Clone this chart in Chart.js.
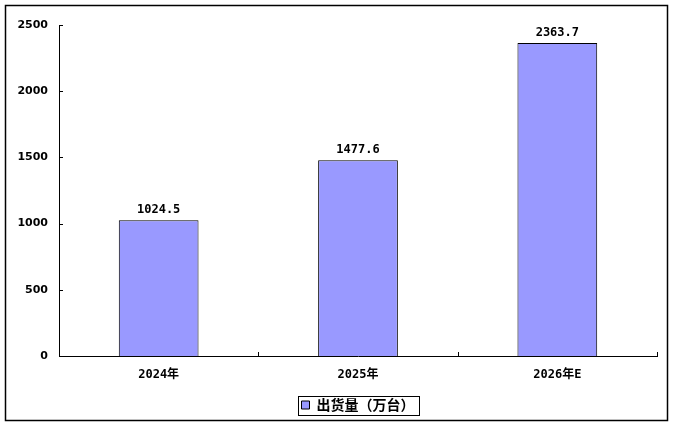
<!DOCTYPE html>
<html>
<head>
<meta charset="utf-8">
<script src="https://cdn.jsdelivr.net/npm/chart.js@4/dist/chart.umd.min.js"></script>
<style>
  html, body { margin: 0; padding: 0; background: #fff; }
  #wrap { width: 673px; height: 426px; position: relative; }
</style>
</head>
<body>
<div id="wrap"><canvas id="myChart"></canvas></div>
<script>
var categories = ["2024年", "2025年", "2026年E"];
var shipments = [1024.5, 1477.6, 2363.7];
var yTicks = [0, 500, 1000, 1500, 2000, 2500];
var seriesName = "出货量（万台）";

var monoFont = '"DejaVu Sans Mono", "Noto Sans CJK SC", monospace';
var legendFont = '"Noto Sans CJK SC", sans-serif';
var ctx = document.getElementById("myChart").getContext("2d");

// frame, inside ticks, value labels, legend box
var extras = {
  id: "extras",
  afterLayout: function (chart) {
    // centre the legend under the plot area instead of the whole canvas
    var lg = chart.legend, ca = chart.chartArea;
    if (!lg) return;
    var shift = (ca.left + ca.right) / 2 - (lg.left + lg.right) / 2;
    lg.left += shift;
    lg.right += shift;
  },
  afterDraw: function (chart) {
    var c = chart.ctx;
    var x = chart.scales.x, y = chart.scales.y;
    var ca = chart.chartArea, lg = chart.legend;
    c.save();
    c.strokeStyle = "#000";
    c.lineWidth = 1.5;
    c.strokeRect(5.5, 5.5, 662, 415);
    c.lineWidth = 1;

    c.beginPath();
    yTicks.forEach(function (v) {
      var py = Math.round(y.getPixelForValue(v)) + 0.5;
      c.moveTo(x.left, py);
      c.lineTo(x.left + 4, py);
    });
    for (var i = 0; i < categories.length; i++) {
      var bx = i < categories.length - 1
        ? (x.getPixelForValue(i) + x.getPixelForValue(i + 1)) / 2
        : x.right - 0.5;
      bx = Math.round(bx) + 0.5;
      c.moveTo(bx, y.bottom);
      c.lineTo(bx, y.bottom - 4);
    }
    c.stroke();

    c.fillStyle = "#000";
    c.font = "bold 12px " + monoFont;
    c.textAlign = "center";
    c.textBaseline = "bottom";
    chart.getDatasetMeta(0).data.forEach(function (bar, i) {
      c.fillText(shipments[i].toFixed(1), bar.x, bar.y - 4);
    });

    // frame around the legend
    c.font = "bold 14px " + legendFont;
    var w = 8 + 7 + c.measureText(seriesName).width + 8;
    var cx = (ca.left + ca.right) / 2;
    var cy = lg.top + lg.height / 2;
    c.strokeRect(Math.round(cx - w / 2) + 0.5, Math.round(cy - 9) + 0.5,
      Math.round(w), 19);
    c.restore();
  }
};

var myChart = new Chart(ctx, {
  type: "bar",
  data: {
    labels: categories,
    datasets: [
      {
        label: seriesName,
        data: shipments,
        backgroundColor: "#9999FF",
        borderColor: "#000",
        borderWidth: 1,
        barPercentage: 0.4,
        categoryPercentage: 1.0,
      },
    ],
  },
  options: {
    responsive: true,
    maintainAspectRatio: false,
    animation: false,
    layout: { padding: { left: 5, right: 16, top: 25, bottom: 4 } },
    scales: {
      x: {
        grid: { display: false, drawTicks: false },
        border: { color: "#000", width: 1 },
        ticks: {
          color: "#000",
          padding: 12,
          font: { family: monoFont, size: 12, weight: "bold" },
        },
        afterFit: function (s) { s.height = 32; },
      },
      y: {
        min: 0,
        max: 2500,
        afterBuildTicks: function (s) {
          s.ticks = yTicks.map(function (v) { return { value: v }; });
        },
        grid: { display: false, drawTicks: false },
        border: { color: "#000", width: 1 },
        ticks: {
          color: "#000",
          padding: 11,
          font: { family: '"DejaVu Sans", sans-serif', size: 11, weight: "bold" },
          callback: function (v) { return String(v); },
        },
        afterFit: function (s) { s.width = 54; },
      },
    },
    plugins: {
      legend: {
        position: "bottom",
        labels: {
          color: "#000",
          boxWidth: 8,
          boxHeight: 8,
          padding: 10,
          font: { family: legendFont, size: 14, weight: "bold" },
        },
      },
      tooltip: { enabled: false },
    },
  },
  plugins: [extras],
});
</script>
</body>
</html>
